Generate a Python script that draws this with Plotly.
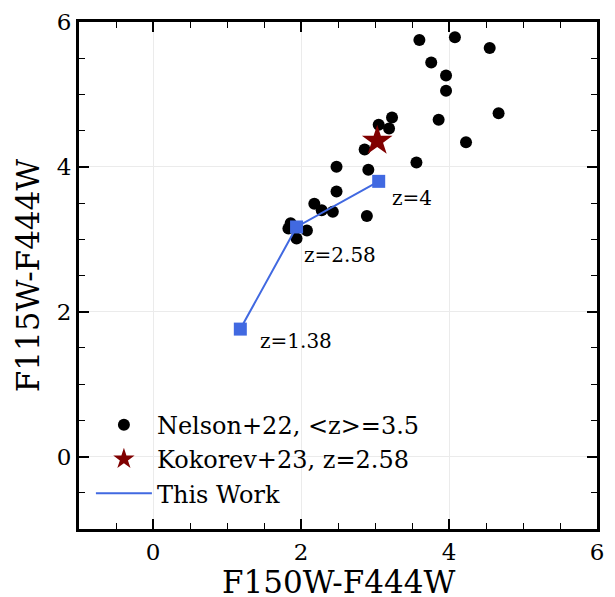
import plotly.graph_objects as go

# Nelson+22 sample
nelson_x = [3.60, 4.08, 4.55, 3.76, 3.96, 3.96, 4.67, 3.86, 4.23, 3.56, 3.23, 3.05, 3.19,
            2.86, 2.48, 2.91, 2.48, 2.18, 2.28, 2.43, 2.89, 1.86, 1.83, 2.08, 1.94]
nelson_y = [5.75, 5.79, 5.64, 5.44, 5.26, 5.05, 4.74, 4.65, 4.34, 4.06, 4.68, 4.58, 4.53,
            4.24, 4.00, 3.96, 3.66, 3.49, 3.40, 3.38, 3.32, 3.22, 3.15, 3.12, 3.01]

# Kokorev+23
kok_x = [3.03]
kok_y = [4.36]

# This work
work_x = [1.18, 1.94, 3.05]
work_y = [1.76, 3.17, 3.80]
work_labels = ["z=1.38", "z=2.58", "z=4"]
label_shift = [(18, -12), (5, -28), (11, -17)]

x_title = "F150W-F444W"
y_title = "F115W-F444W"

FONT = "DejaVu Serif"

fig = go.Figure()
fig.add_trace(go.Scatter(x=nelson_x, y=nelson_y, mode="markers",
                         marker=dict(color="black", size=12),
                         name="Nelson+22, <z>=3.5"))
fig.add_trace(go.Scatter(x=kok_x, y=kok_y, mode="markers",
                         marker=dict(color="#800000", size=23, symbol="star"),
                         name="Kokorev+23, z=2.58"))
fig.add_trace(go.Scatter(x=work_x, y=work_y, mode="lines+markers",
                         line=dict(color="#4169E1", width=2),
                         marker=dict(color="#4169E1", size=13, symbol="square"),
                         name="This Work", showlegend=False))
fig.add_trace(go.Scatter(x=[None], y=[None], mode="lines",
                         line=dict(color="#4169E1", width=2),
                         name="This Work"))

for xv, yv, lab, (dx, dy) in zip(work_x, work_y, work_labels, label_shift):
    fig.add_annotation(x=xv, y=yv, text=lab, showarrow=False, xanchor="left",
                       yanchor="middle", xshift=dx, yshift=dy,
                       font=dict(family=FONT, size=20, color="black"))

# x-axis title as a paper annotation (placed below the tick labels)
fig.add_annotation(x=0.5, y=-0.105, xref="paper", yref="paper", text=x_title,
                   showarrow=False, xanchor="center", yanchor="middle",
                   font=dict(family=FONT, size=31, color="black"))

axis_common = dict(
    showline=True, linecolor="black", linewidth=3, mirror="ticks",
    ticks="inside", ticklen=10, tickwidth=1.5, tickcolor="black",
    dtick=2, tick0=0, automargin=False,
    showgrid=True, gridcolor="#ebebeb", gridwidth=1,
    zeroline=False,
    tickfont=dict(family=FONT, size=23, color="black"),
    minor=dict(ticks="inside", ticklen=6, tickwidth=1.2, tickcolor="black", dtick=0.5,
               tick0=0, showgrid=False),
)

fig.update_xaxes(range=[-1, 6], **axis_common)
fig.update_yaxes(range=[-1, 6], title=dict(text=y_title, standoff=8,
                 font=dict(family=FONT, size=31, color="black")), **axis_common)

fig.update_layout(
    width=615, height=597,
    margin=dict(l=79, r=18, t=22, b=68),
    plot_bgcolor="white", paper_bgcolor="white",
    legend=dict(x=0.023, y=0.249, xanchor="left", yanchor="top",
                itemwidth=56,
                bgcolor="rgba(0,0,0,0)", borderwidth=0,
                font=dict(family=FONT, size=24, color="black")),
)

fig.write_html("out.html", config={"displayModeBar": False},
               post_script="document.body.style.margin='0px';")
